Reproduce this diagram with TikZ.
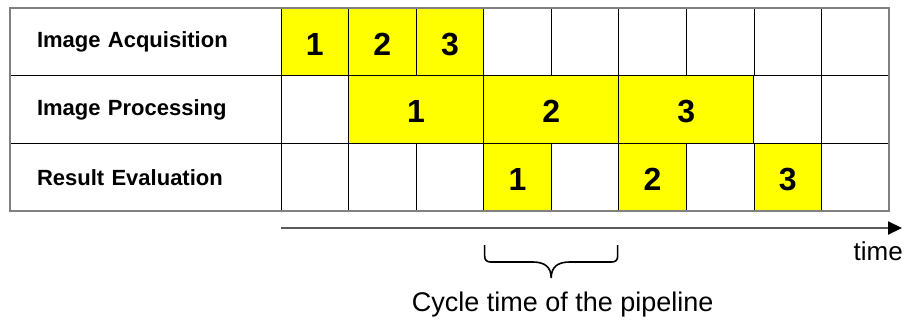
\documentclass[tikz,border=0pt]{standalone}
\usepackage{fontspec}
\setmainfont{Liberation Sans}
\usepackage{xcolor}
\definecolor{cBusy}{HTML}{FFFF00}
\definecolor{cFrame}{HTML}{808080}
\definecolor{cAxis}{HTML}{5A5A5A}
\usepackage{tikz}
\usetikzlibrary{positioning,arrows.meta,calc}
\tikzset{
  stage/.style={draw=black,line width=0.8pt,outer sep=0pt,inner xsep=27pt,
    text width=217pt,minimum height=67.67pt,align=left,
    font=\bfseries\fontsize{22}{26}\selectfont},
  slot/.style={draw=black,line width=0.8pt,outer sep=0pt,inner sep=0pt,
    minimum width=67.56pt,minimum height=67.67pt,text height=27pt,
    font=\bfseries\fontsize{32}{36}\selectfont},
  slot-busy/.style={slot,fill=cBusy},
  slot-wide/.style={slot-busy,minimum width=135.11pt},
  frame/.style={draw=cFrame,line width=1.4pt},
  time-axis/.style={-{Triangle[length=14pt,width=13pt,fill=black,color=black]},
    line width=1.8pt,draw=cAxis},
  brace-line/.style={draw=black,line width=1.6pt},
}
\begin{document}
\begin{tikzpicture}[x=1pt,y=1pt,node distance=0pt,font=\fontsize{26}{30}\selectfont]
  \useasboundingbox (0,0) rectangle (908,320);
  % stage labels
  \node[stage,anchor=north west] (acq) at (10,312) {Image Acquisition};
  \node[stage,below=of acq] (proc) {Image Processing};
  \node[stage,below=of proc] (eval) {Result Evaluation};
  % acquisition
  \node[slot-busy,right=of acq] (acq1) {1};
  \node[slot-busy,right=of acq1] (acq2) {2};
  \node[slot-busy,right=of acq2] (acq3) {3};
  \foreach \i [evaluate=\i as \p using int(\i-1)] in {4,...,9}
    \node[slot,right=of acq\p] (acq\i) {};
  % processing
  \node[slot,right=of proc] (proc1) {};
  \node[slot-wide,right=of proc1] (proc2) {1};
  \node[slot-wide,right=of proc2] (proc3) {2};
  \node[slot-wide,right=of proc3] (proc4) {3};
  \node[slot,right=of proc4] (proc5) {};
  \node[slot,right=of proc5] (proc6) {};
  % evaluation
  \node[slot,right=of eval] (eval1) {};
  \node[slot,right=of eval1] (eval2) {};
  \node[slot,right=of eval2] (eval3) {};
  \node[slot-busy,right=of eval3] (eval4) {1};
  \node[slot,right=of eval4] (eval5) {};
  \node[slot-busy,right=of eval5] (eval6) {2};
  \node[slot,right=of eval6] (eval7) {};
  \node[slot-busy,right=of eval7] (eval8) {3};
  \node[slot,right=of eval8] (eval9) {};
  \draw[frame] (acq.north west) rectangle (eval9.south east);
  % time axis
  \coordinate (t0) at ([yshift=-17pt]eval1.south west);
  \coordinate (t1) at ([xshift=13pt]t0 -| eval9.south east);
  \draw[time-axis] (t0) -- (t1);
  \node[anchor=base east,inner sep=0pt] (time) at ([xshift=1pt,yshift=-32pt]t1) {time};
  % cycle time brace
  \coordinate (cyc-l) at ([xshift=1pt,yshift=-34pt]eval4.south west);
  \begin{scope}[shift={(cyc-l)}]
    \draw[brace-line] (0,0) -- (0,-11) .. controls (0,-15) and (2,-17) .. (6,-17)
      -- (48,-17) .. controls (60,-17) and (66.5,-22) .. (66.5,-33)
      .. controls (66.5,-22) and (73,-17) .. (85,-17)
      -- (127,-17) .. controls (131,-17) and (133,-15) .. (133,-11) -- (133,0);
  \end{scope}
  \node[anchor=base,inner sep=0pt,font=\fontsize{27}{31}\selectfont] (cycle)
    at ([xshift=78pt,yshift=-66pt]cyc-l) {Cycle time of the pipeline};
\end{tikzpicture}
\end{document}
